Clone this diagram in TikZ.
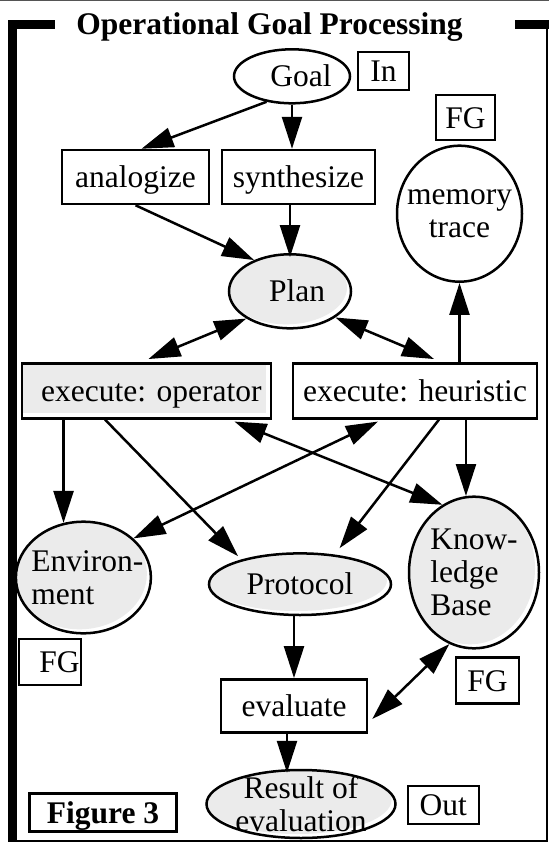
\documentclass[tikz,border=0pt]{standalone}
\usepackage{fontspec}
\setmainfont{Liberation Serif}
\usetikzlibrary{arrows.meta,calc,shapes.geometric}
\definecolor{paleshade}{RGB}{235,235,235}
\definecolor{topline}{RGB}{85,85,85}
\tikzset{
  txt/.style={font=\fontsize{31.5}{33}\selectfont},
  nodebase/.style={txt, draw, line width=2.5pt, inner sep=0pt},
  box/.style={nodebase, rectangle, text height=21pt, text depth=0pt},
  oval/.style={nodebase, ellipse, inner xsep=-15pt, inner ysep=0pt, text height=21pt, text depth=0pt},
  tall/.style={nodebase, ellipse, inner xsep=-15pt, inner ysep=-5pt},
  % light grey ellipse with a white rim on the lower right
  shaded/.style={fill=white, path picture={
    \fill[paleshade] let \p1=(path picture bounding box.north east),
                         \p2=(path picture bounding box.south west) in
      ($(path picture bounding box.center)+(-4pt,4pt)$)
      ellipse [x radius={(\x1-\x2)/2}, y radius={(\y1-\y2)/2}];}},
  shadedbox/.style={fill=white, path picture={
    \fill[paleshade] ([yshift=5pt]path picture bounding box.south west)
      rectangle ([xshift=-5pt]path picture bounding box.north east);}},
  arr/.style={line width=2.5pt, -{Triangle[length=32pt,width=20pt]}},
  both/.style={line width=2.5pt, {Triangle[length=32pt,width=20pt]}-{Triangle[length=32pt,width=20pt]}},
}
\begin{document}
\begin{tikzpicture}[x=1pt,y=-1pt]
\useasboundingbox (0,0) rectangle (549,843);

% frame
\draw[topline, line width=1.5pt] (0,0.75) -- (549,0.75);
\fill (8,20) rectangle (17,841.5);
\fill (8,20) rectangle (55,29.3);
\fill (515,20) rectangle (549,29.3);
\draw[line width=2pt] (546.7,29) -- (546.7,841) -- (17,841);

\node[txt, font=\fontsize{31.5}{33}\selectfont\bfseries, anchor=base] (title) at (269.5,35) {Operational Goal Processing};

% nodes
\node[oval, minimum width=116pt, minimum height=54pt] (Goal) at (292,76.3) {\hspace*{18pt}Goal};
\node[box, minimum width=51pt, minimum height=38pt] (In) at (383.5,71) {In};
\node[box, minimum width=59pt, minimum height=45pt] (FGtop) at (465.5,117.5) {FG};
\node[box, minimum width=147pt, minimum height=54pt] (analogize) at (135.5,177) {analogize};
\node[box, minimum width=153pt, minimum height=54pt] (synthesize) at (298.5,177) {synthesize};
\node[tall, align=center, minimum width=125pt, minimum height=136pt] (memory) at (459.5,213.7) {memory\\trace};
\node[oval, shaded, minimum width=122pt, minimum height=74pt] (Plan) at (290,291.3) {\hspace*{14pt}Plan};
\node[box, shadedbox, minimum width=249pt, minimum height=55pt] (op) at (146.4,390.8) {\hspace*{10pt}execute: operator};
\node[box, minimum width=244pt, minimum height=55pt] (heur) at (415,390.8) {execute: heuristic};
\node[tall, shaded, align=left, minimum width=135pt, minimum height=111.6pt] (Env) at (83.4,577.5) {\hspace*{8pt}Environ-\\\hspace*{8pt}ment};
\node[oval, shaded, minimum width=182pt, minimum height=61.6pt] (Protocol) at (300,584.2) {Protocol};
\node[tall, shaded, align=left, minimum width=130pt, minimum height=151.6pt] (KB) at (474,572.5) {Know-\\ledge\\Base};
\node[box, minimum width=62pt, minimum height=46pt] (FGleft) at (50,662) {\hspace*{19pt}FG};
\node[box, minimum width=146pt, minimum height=53.4pt] (evaluate) at (294,706) {evaluate};
\node[box, minimum width=63pt, minimum height=45.6pt] (FGright) at (487.5,680.5) {FG};
\node[tall, shaded, align=center, minimum width=189pt, minimum height=68pt] (Result) at (301,804) {Result of\\evaluation};
\node[box, minimum width=71pt, minimum height=38pt] (Out) at (443.3,805) {Out};
\node[box, line width=2.8pt, font=\fontsize{31.5}{33}\selectfont\bfseries, minimum width=147pt, minimum height=38.5pt] (fig) at (103,812.5) {Figure 3};

% connectors
\draw[arr] (Goal.-135) -- ([xshift=6pt]analogize.north);
\draw[arr] (Goal.south) -- (Goal.south |- synthesize.north);
\draw[arr] (analogize.south) -- (Plan.139);
\draw[arr] (Plan.north |- synthesize.south) -- ([yshift=-4pt]Plan.north);
\draw[both] (Plan.212) -- ([xshift=2pt,yshift=3pt]op.north);
\draw[both] (Plan.-30) -- ([xshift=19pt,yshift=3pt]heur.north);
\draw[arr] (memory.south |- heur.north) -- (memory.south);
\draw[arr] (Env.110 |- op.south) -- (Env.110);
\draw[arr] ([xshift=-41.4pt]op.south) -- ([xshift=-62pt,yshift=-4pt]Protocol.north);
\draw[both] ([xshift=88pt,yshift=-2pt]op.south) -- (KB.115);
\draw[both] ([xshift=-37pt,yshift=-2pt]heur.south) -- (Env.38);
\draw[arr] ([xshift=24pt]heur.south) -- ([xshift=39.6pt,yshift=4pt]Protocol.north);
\draw[arr] (KB.96 |- heur.south) -- (KB.96);
\draw[arr] (Protocol.south -| evaluate.north) -- (evaluate.north);
\draw[both] (KB.251) -- ([xshift=4pt,yshift=-13pt]evaluate.east);
\path ([xshift=-14pt,yshift=-4pt]Result.north) coordinate (rtop);
\draw[arr] (rtop |- evaluate.south) -- (rtop);
\end{tikzpicture}
\end{document}
